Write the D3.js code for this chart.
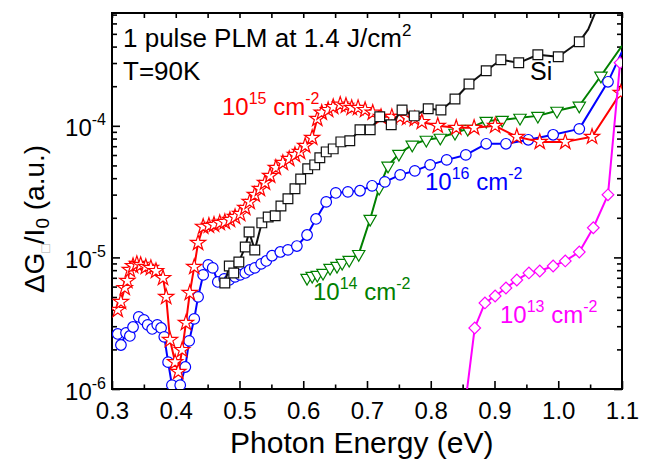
<!DOCTYPE html>
<html>
<head>
<meta charset="utf-8">
<script src="https://cdn.jsdelivr.net/npm/d3@7"></script>
<style>
  body { margin: 0; background: #fff; }
  text { font-family: "Liberation Sans", Arial, sans-serif; }
</style>
</head>
<body>
<div id="chart"></div>
<script>
// photon energy (eV) and dG/I0 (a.u.)
var red15E = [0.309,0.314,0.320,0.324,0.328,0.333,0.339,0.345,0.353,0.361,0.369,0.380,0.385,0.391,0.399,0.404,0.410,0.416,0.422,0.429,
  0.435,0.443,0.452,0.460,0.469,0.477,0.485,0.493,0.501,0.509,0.516,0.524,0.532,0.540,0.548,0.557,0.568,0.578,0.587,0.595,
  0.603,0.614,0.622,0.629,0.639,0.647,0.658,0.667,0.676,0.686,0.697,0.709,0.722,0.739,0.752,0.763,0.775,0.786,0.811,0.840,
  0.868,0.901,0.935,0.971,1.011,1.053,1.098];
var red15V = [3.99e-6,4.59e-6,5.86e-6,6.63e-6,8.03e-6,8.61e-6,8.93e-6,8.77e-6,8.47e-6,8.32e-6,7.89e-6,6.98e-6,5.01e-6,2.36e-6,1.60e-6,1.35e-6,1.98e-6,3.18e-6,5.37e-6,8.47e-6,
  1.29e-5,1.71e-5,1.74e-5,1.77e-5,1.83e-5,1.86e-5,1.93e-5,2.03e-5,2.14e-5,2.38e-5,2.64e-5,2.99e-5,3.32e-5,3.69e-5,4.17e-5,4.80e-5,5.23e-5,5.61e-5,6.01e-5,6.34e-5,
  7.05e-5,8.11e-5,1.13e-4,1.26e-4,1.32e-4,1.39e-4,1.45e-4,1.42e-4,1.37e-4,1.37e-4,1.32e-4,1.26e-4,1.17e-4,1.17e-4,1.17e-4,1.15e-4,1.13e-4,1.07e-4,1.00e-4,9.66e-5,
  9.66e-5,1.00e-4,8.25e-5,7.55e-5,7.55e-5,8.25e-5,1.78e-4];

var blue16E = [0.309,0.314,0.322,0.328,0.333,0.342,0.350,0.356,0.363,0.371,0.377,0.382,0.388,0.394,0.407,0.415,0.421,0.429,0.435,0.443,
  0.451,0.458,0.466,0.476,0.484,0.493,0.501,0.509,0.516,0.524,0.534,0.542,0.551,0.564,0.576,0.590,0.606,0.620,0.636,0.651,
  0.670,0.689,0.708,0.728,0.752,0.775,0.799,0.825,0.855,0.887,0.918,0.953,0.992,1.033,1.078];
var blue16V = [2.62e-6,2.16e-6,2.67e-6,2.53e-6,2.96e-6,3.53e-6,3.35e-6,3.07e-6,2.86e-6,3.07e-6,2.91e-6,2.49e-6,1.60e-6,1.07e-6,1.07e-6,1.47e-6,2.32e-6,3.41e-6,5.01e-6,7.36e-6,
  8.77e-6,8.32e-6,6.51e-6,6.87e-6,6.74e-6,7.11e-6,7.36e-6,7.62e-6,8.03e-6,8.32e-6,8.93e-6,9.40e-6,1.03e-5,1.10e-5,1.14e-5,1.22e-5,1.48e-5,1.96e-5,2.64e-5,3.09e-5,
  3.15e-5,3.21e-5,3.50e-5,3.75e-5,4.24e-5,4.55e-5,5.05e-5,5.51e-5,6.01e-5,7.30e-5,7.30e-5,7.83e-5,8.55e-5,9.48e-5,2.16e-4];
var blue16TailE = [1.1];
var blue16TailV = [3.66e-4];

var green14E = [0.606,0.614,0.622,0.631,0.642,0.653,0.661,0.672,0.687,0.705,0.719,0.733,0.750,0.771,0.793,0.815,0.838,0.858,0.887,0.912,
  0.940,0.968,0.998,1.033,1.067];
var green14V = [6.98e-6,7.23e-6,7.36e-6,7.62e-6,8.32e-6,8.61e-6,9.08e-6,9.57e-6,1.06e-5,1.96e-5,3.38e-5,4.97e-5,6.12e-5,7.18e-5,7.83e-5,8.11e-5,8.85e-5,9.48e-5,1.09e-4,1.11e-4,
  1.15e-4,1.19e-4,1.30e-4,1.42e-4,2.40e-4];
var green14TailE = [1.1];
var green14TailV = [4.06e-4];

var siE = [0.477,0.484,0.491,0.499,0.509,0.515,0.524,0.535,0.545,0.556,0.565,0.576,0.587,0.596,0.607,0.618,0.626,0.636,0.647,0.659,
  0.673,0.689,0.705,0.720,0.738,0.755,0.774,0.796,0.816,0.838,0.860,0.887,0.910,0.938,0.968,1.000,1.033];
var siV = [6.40e-6,8.61e-6,7.62e-6,9.24e-6,1.20e-5,1.56e-5,1.14e-5,1.83e-5,2.03e-5,2.07e-5,2.46e-5,2.79e-5,3.32e-5,3.95e-5,4.71e-5,5.05e-5,5.71e-5,6.34e-5,6.68e-5,7.55e-5,
  7.69e-5,9.33e-5,9.33e-5,1.17e-4,1.02e-4,1.32e-4,1.19e-4,1.35e-4,1.32e-4,1.60e-4,2.08e-4,2.62e-4,3.18e-4,3.01e-4,3.47e-4,3.35e-4,4.35e-4];
var siTailE = [1.047,1.070];
var siTailV = [5.4e-4,1.0e-3];

var mag13HeadE = [0.851];
var mag13HeadV = [5.8e-7];
var mag13E = [0.869,0.885,0.901,0.918,0.935,0.954,0.971,0.992,1.011,1.033,1.055,1.078,1.097];
var mag13V = [2.91e-6,4.51e-6,5.09e-6,5.86e-6,6.74e-6,7.62e-6,7.89e-6,8.61e-6,9.40e-6,1.10e-5,1.68e-5,2.99e-5,3.01e-4];

var xTicks = [0.3,0.4,0.5,0.6,0.7,0.8,0.9,1.0,1.1];
var xMinor = [0.35,0.45,0.55,0.65,0.75,0.85,0.95,1.05];
var yTicks = [1e-6,1e-5,1e-4];
var yTickExp = ["-6","-5","-4"];

var margin = {top: 13, right: 25, bottom: 70, left: 112}
  , width = 647 - margin.left - margin.right
  , height = 459 - margin.top - margin.bottom;

var x = d3.scaleLinear().domain([0.3, 1.1]).range([0, width]);
var y = d3.scaleLog().domain([1e-6, 7.2e-4]).range([height, 0]);

var yMinor = [];
[-6, -5, -4].forEach(function(p) {
  for (var k = 2; k <= 9; k++) {
    var v = k * Math.pow(10, p);
    if (v <= y.domain()[1]) yMinor.push(v);
  }
});

var svg = d3.select('#chart').append('svg')
  .attr('width', 647)
  .attr('height', 459);

var main = svg.append('g')
  .attr('transform', 'translate(' + margin.left + ',' + margin.top + ')');

svg.append('defs').append('clipPath').attr('id', 'plotclip')
  .append('rect').attr('width', width).attr('height', height);

// axes, ticks point inward
function tickAxis(axis, tr) {
  var g = main.append('g').attr('transform', tr).call(axis);
  g.select('.domain').remove();
  g.selectAll('line').attr('stroke', '#000').attr('stroke-width', 1.6);
  return g;
}

var xAxis = tickAxis(d3.axisBottom(x).tickValues(xTicks).tickSize(-8).tickPadding(13)
  .tickFormat(d3.format('.1f')), 'translate(0,' + height + ')');
xAxis.selectAll('text').attr('font-size', 24).attr('fill', '#000')
  .attr('font-family', '"Liberation Sans", Arial, sans-serif');
tickAxis(d3.axisBottom(x).tickValues(xMinor).tickSize(-4.5).tickFormat(''), 'translate(0,' + height + ')');
tickAxis(d3.axisTop(x).tickValues(xTicks.concat(xMinor)).tickSize(-5).tickFormat(''), 'translate(0,0)');

var yAxis = tickAxis(d3.axisLeft(y).tickValues(yTicks).tickSize(-8).tickFormat(''), 'translate(0,0)');
tickAxis(d3.axisLeft(y).tickValues(yMinor).tickSize(-5).tickFormat(''), 'translate(0,0)');
tickAxis(d3.axisRight(y).tickValues(yTicks).tickSize(-8).tickFormat(''), 'translate(' + width + ',0)');
tickAxis(d3.axisRight(y).tickValues(yMinor).tickSize(-5).tickFormat(''), 'translate(' + width + ',0)');

yAxis.selectAll('.tick').each(function(d, i) {
  var t = d3.select(this).append('text')
    .attr('x', -6).attr('y', 10)
    .attr('text-anchor', 'end')
    .attr('fill', '#000')
    .attr('font-size', 24);
  t.append('tspan').text('10');
  t.append('tspan').attr('dy', -11).attr('font-size', 16).text(yTickExp[i]);
});

main.append('rect')
  .attr('width', width).attr('height', height)
  .attr('fill', 'none').attr('stroke', '#000').attr('stroke-width', 2);

// axis titles
main.append('text')
  .attr('x', 230 - margin.left).attr('y', height + 64)
  .attr('font-size', 30)
  .text('Photon Energy (eV)');

var yt = svg.append('text')
  .attr('transform', 'translate(44,219) rotate(-90)')
  .attr('text-anchor', 'middle')
  .attr('font-size', 28);
yt.append('tspan').text('\u0394G');
yt.append('tspan').attr('dy', 6).attr('font-size', 14).attr('fill', '#aaa').text('\u25A1');
yt.append('tspan').attr('dy', -6).text('/I');
yt.append('tspan').attr('dy', 5).attr('font-size', 19).text('0');
yt.append('tspan').attr('dy', -5).text(' (a.u.)');

// series
var series = [
  {e: green14E, v: green14V, tailE: green14TailE, tailV: green14TailV, color: '#008000',
   shape: d3.symbol().type(d3.symbolTriangle).size(66)(), rot: 180},
  {e: blue16E, v: blue16V, tailE: blue16TailE, tailV: blue16TailV, color: '#0000ff',
   shape: d3.symbol().type(d3.symbolCircle).size(88)(), rot: 0},
  {e: red15E, v: red15V, tailE: [], tailV: [], color: '#ff0000',
   shape: d3.symbol().type(d3.symbolStar).size(72)(), rot: 0},
  {e: siE, v: siV, tailE: siTailE, tailV: siTailV, color: '#111',
   shape: d3.symbol().type(d3.symbolSquare).size(95)(), rot: 0},
  {e: mag13E, v: mag13V, tailE: [], tailV: [], headE: mag13HeadE, headV: mag13HeadV, color: '#ff00ff',
   shape: d3.symbol().type(d3.symbolSquare).size(68)(), rot: 45}
];

var line = d3.line()
  .x(function(d) { return x(d[0]); })
  .y(function(d) { return y(d[1]); });

var plot = main.append('g').attr('clip-path', 'url(#plotclip)');

series.forEach(function(s) {
  var pts = d3.zip(s.e, s.v);
  var all = d3.zip(s.headE || [], s.headV || []).concat(pts, d3.zip(s.tailE, s.tailV));
  plot.append('path')
    .datum(all)
    .attr('fill', 'none')
    .attr('stroke', s.color)
    .attr('stroke-width', 2)
    .attr('stroke-linejoin', 'round')
    .attr('d', line);
  plot.selectAll(null)
    .data(pts)
    .enter().append('path')
      .attr('d', s.shape)
      .attr('transform', function(d) {
        return 'translate(' + x(d[0]) + ',' + y(d[1]) + ') rotate(' + s.rot + ')';
      })
      .attr('fill', '#fff')
      .attr('stroke', s.color)
      .attr('stroke-width', 1.2);
});

// annotations
var note = svg.append('text').attr('x', 123).attr('y', 47).attr('font-size', 26);
note.append('tspan').text('1 pulse PLM at 1.4 J/cm');
note.append('tspan').attr('dy', -11).attr('font-size', 17).text('2');
svg.append('text').attr('x', 123).attr('y', 80).attr('font-size', 26).text('T=90K');

svg.append('text').attr('x', 530).attr('y', 80).attr('font-size', 25).text('Si');

var doseLabels = [
  {exp: '15', x: 222, y: 115, color: '#ff0000'},
  {exp: '16', x: 425, y: 190, color: '#0000ff'},
  {exp: '14', x: 313, y: 300, color: '#008000'},
  {exp: '13', x: 500, y: 323, color: '#ff00ff'}
];
doseLabels.forEach(function(l) {
  var t = svg.append('text').attr('x', l.x).attr('y', l.y)
    .attr('font-size', 24).attr('fill', l.color);
  t.append('tspan').text('10');
  t.append('tspan').attr('dy', -11).attr('font-size', 16).text(l.exp);
  t.append('tspan').attr('dy', 11).text(' cm');
  t.append('tspan').attr('dy', -11).attr('font-size', 16).text('-2');
});
</script>
</body>
</html>
